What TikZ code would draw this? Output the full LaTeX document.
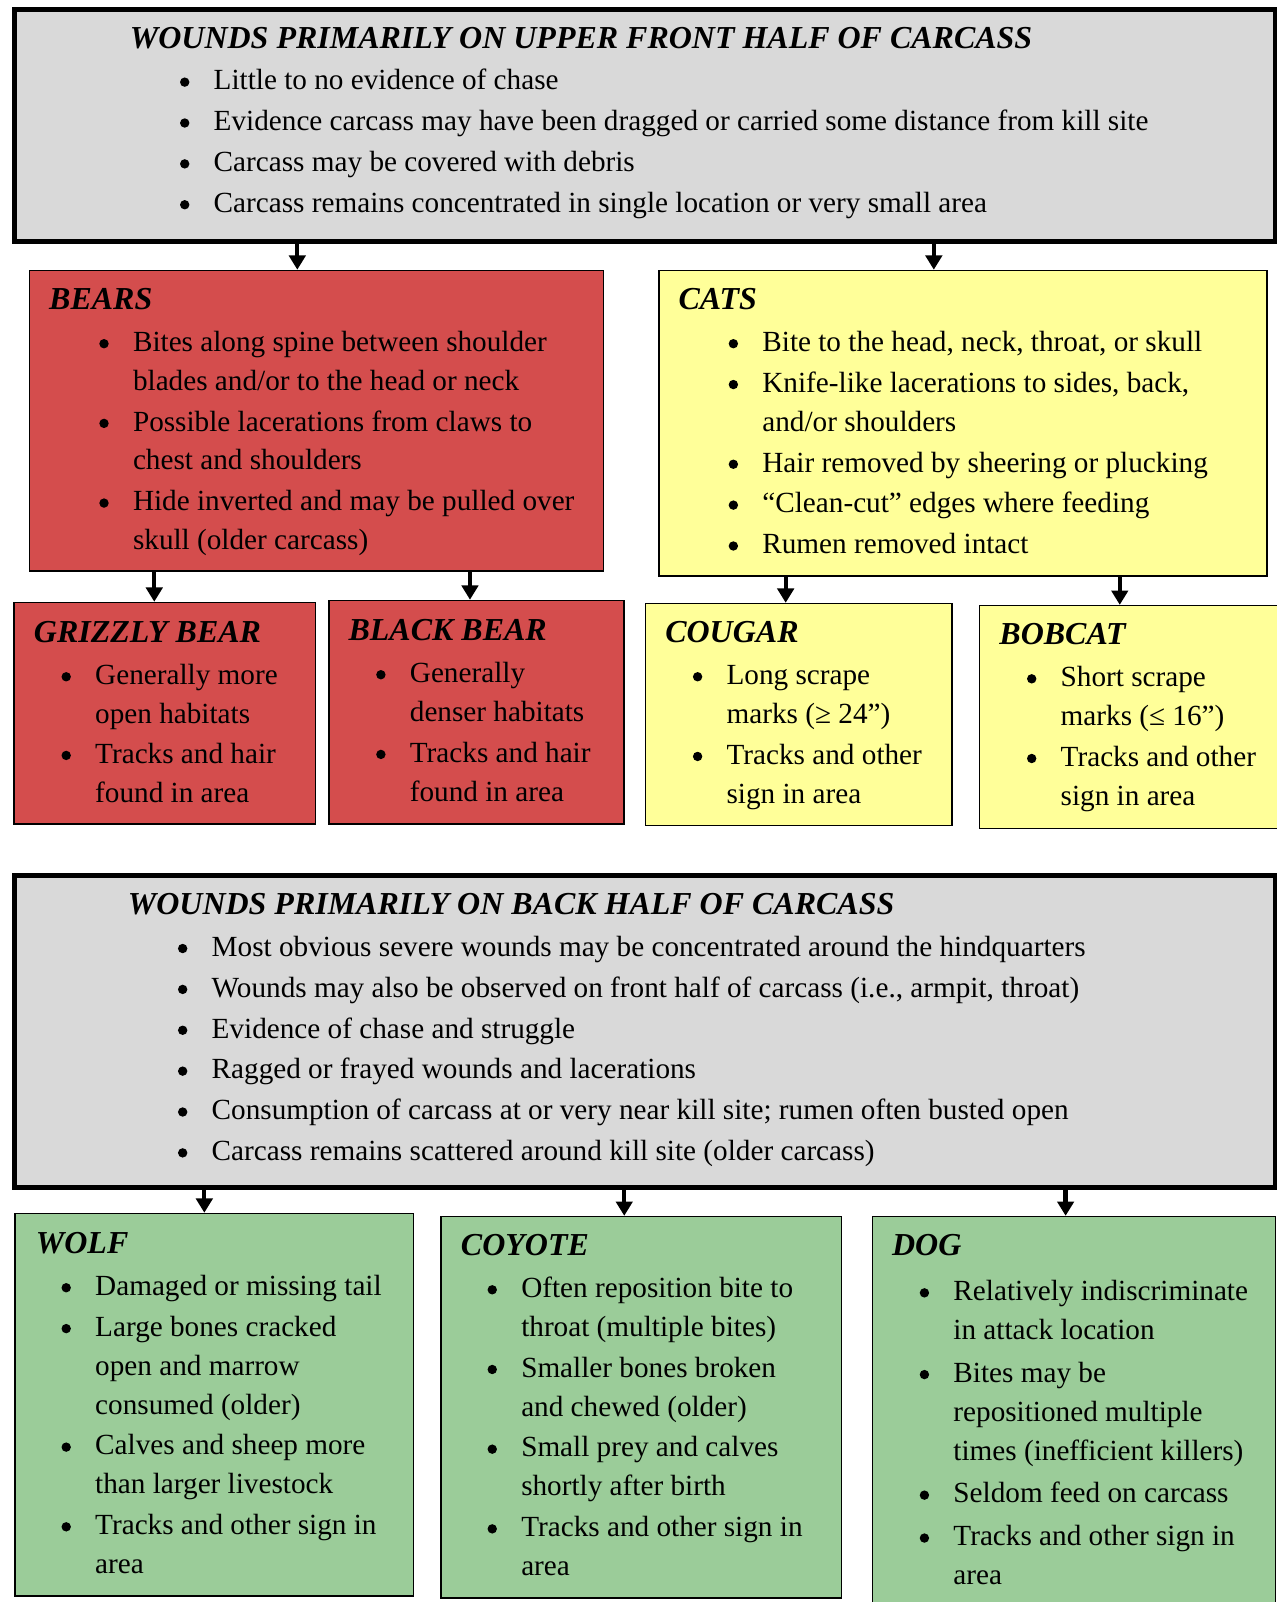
\documentclass[tikz,border=0pt]{standalone}
\usepackage{fontspec}
\setmainfont{Liberation Serif}
\usetikzlibrary{arrows.meta}
\definecolor{boxgray}{RGB}{217,217,217}
\definecolor{boxred}{RGB}{212,77,77}
\definecolor{boxyellow}{RGB}{255,255,153}
\definecolor{boxgreen}{RGB}{155,204,153}
\newlength\bo
\newlength\bw
\newcommand\bdot{\tikz[baseline=0pt]\fill[black] (4.6pt,7.6pt) circle[radius=4.6pt];}
\newcommand\bl[1]{\makebox[\bw][l]{\hspace{\bo}\bdot}#1}
\newcommand\cl[1]{\hspace{\bw}#1}
\newcommand\ttl[1]{{\fontsize{31.3}{38}\selectfont\textbf{\textit{#1}}}}
\newcommand\bigind{\setlength\bo{49pt}\setlength\bw{82pt}}
\newcommand\smind{\setlength\bo{27pt}\setlength\bw{60pt}}
\tikzset{
  thinbox/.style={draw=black, line width=1.6pt, rectangle, anchor=north west, inner sep=0pt},
  thickbox/.style={draw=black, line width=5pt, fill=boxgray, rectangle, anchor=north west, inner sep=0pt},
  txt/.style={anchor=base west, inner sep=0pt, font=\fontsize{28.6}{38}\selectfont},
  arr/.style={line width=4.2pt, -{Triangle[width=16pt,length=14pt]}}
}
\begin{document}
\begin{tikzpicture}[x=1pt,y=-1pt]
\useasboundingbox (0,0) rectangle (1249,1568);
% ---------- boxes ----------
\node[thickbox, minimum width=1234.5pt, minimum height=227pt] (top) at (11.5,6.5) {};
\node[thinbox, fill=boxred, minimum width=562pt, minimum height=294pt] (bears) at (28,264) {};
\node[thinbox, fill=boxyellow, minimum width=595pt, minimum height=299pt] (cats) at (644,264) {};
\node[thinbox, fill=boxred, minimum width=295pt, minimum height=217pt] (grizzly) at (13,589) {};
\node[thinbox, fill=boxred, minimum width=289pt, minimum height=219pt] (black) at (321,587) {};
\node[thinbox, fill=boxyellow, minimum width=300pt, minimum height=217pt] (cougar) at (631,590) {};
\node[thinbox, fill=boxyellow, minimum width=310pt, minimum height=218pt] (bobcat) at (958,592) {};
\node[thickbox, minimum width=1234.5pt, minimum height=305.5pt] (bottom) at (11.5,854) {};
\node[thinbox, fill=boxgreen, minimum width=390pt, minimum height=374pt] (wolf) at (14,1187) {};
\node[thinbox, fill=boxgreen, minimum width=392pt, minimum height=373pt] (coyote) at (431,1190) {};
\node[thinbox, fill=boxgreen, minimum width=394.5pt, minimum height=400pt] (dog) at (853,1190) {};
% ---------- arrow columns ----------
\coordinate (c1) at (291,0);
\coordinate (c2) at (914,0);
\coordinate (c3) at (151,0);
\coordinate (c4) at (460,0);
\coordinate (c5) at (769,0);
\coordinate (c6) at (1096,0);
\coordinate (c7) at (200,0);
\coordinate (c8) at (611,0);
\coordinate (c9) at (1043,0);
\draw[arr] (top.south -| c1) -- (bears.north -| c1);
\draw[arr] (top.south -| c2) -- (cats.north -| c2);
\draw[arr] (bears.south -| c3) -- (grizzly.north -| c3);
\draw[arr] (bears.south -| c4) -- (black.north -| c4);
\draw[arr] (cats.south -| c5) -- (cougar.north -| c5);
\draw[arr] (cats.south -| c6) -- (bobcat.north -| c6);
\draw[arr] (bottom.south -| c7) -- (wolf.north -| c7);
\draw[arr] (bottom.south -| c8) -- (coyote.north -| c8);
\draw[arr] (bottom.south -| c9) -- (dog.north -| c9);
% ---------- texts ----------
\node[txt] (topT) at (127,47) {\bigind\begin{tabular}[t]{@{}l@{}}
\ttl{WOUNDS PRIMARILY ON UPPER FRONT HALF OF CARCASS}\\[3pt]
\bl{Little to no evidence of chase}\\[2pt]
\bl{Evidence carcass may have been dragged or carried some distance from kill site}\\[2pt]
\bl{Carcass may be covered with debris}\\[2pt]
\bl{Carcass remains concentrated in single location or very small area}
\end{tabular}};
\node[txt] (bearsT) at (48,303) {\bigind\begin{tabular}[t]{@{}l@{}}
\ttl{BEARS}\\[3pt]
\bl{Bites along spine between shoulder}\\
\cl{blades and/or to the head or neck}\\[2pt]
\bl{Possible lacerations from claws to}\\
\cl{chest and shoulders}\\[2pt]
\bl{Hide inverted and may be pulled over}\\
\cl{skull (older carcass)}
\end{tabular}};
\node[txt] (catsT) at (664,303) {\bigind\begin{tabular}[t]{@{}l@{}}
\ttl{CATS}\\[3pt]
\bl{Bite to the head, neck, throat, or skull}\\[2pt]
\bl{Knife-like lacerations to sides, back,}\\
\cl{and/or shoulders}\\[2pt]
\bl{Hair removed by sheering or plucking}\\[2pt]
\bl{“Clean-cut” edges where feeding}\\[2pt]
\bl{Rumen removed intact}
\end{tabular}};
\node[txt] (grizzlyT) at (33,629) {\smind\begin{tabular}[t]{@{}l@{}}
\ttl{GRIZZLY BEAR}\\[3pt]
\bl{Generally more}\\
\cl{open habitats}\\[1pt]
\bl{Tracks and hair}\\
\cl{found in area}
\end{tabular}};
\node[txt] (blackT) at (341,627) {\smind\begin{tabular}[t]{@{}l@{}}
\ttl{BLACK BEAR}\\[3pt]
\bl{Generally}\\
\cl{denser habitats}\\[2pt]
\bl{Tracks and hair}\\
\cl{found in area}
\end{tabular}};
\node[txt] (cougarT) at (651,629) {\smind\begin{tabular}[t]{@{}l@{}}
\ttl{COUGAR}\\[3pt]
\bl{Long scrape}\\
\cl{marks (≥ 24”)}\\[2pt]
\bl{Tracks and other}\\
\cl{sign in area}
\end{tabular}};
\node[txt] (bobcatT) at (978,631) {\smind\begin{tabular}[t]{@{}l@{}}
\ttl{BOBCAT}\\[3pt]
\bl{Short scrape}\\
\cl{marks (≤ 16”)}\\[2pt]
\bl{Tracks and other}\\
\cl{sign in area}
\end{tabular}};
\node[txt] (bottomT) at (125,895) {\bigind\begin{tabular}[t]{@{}l@{}}
\ttl{WOUNDS PRIMARILY ON BACK HALF OF CARCASS}\\[3pt]
\bl{Most obvious severe wounds may be concentrated around the hindquarters}\\[2pt]
\bl{Wounds may also be observed on front half of carcass (i.e., armpit, throat)}\\[2pt]
\bl{Evidence of chase and struggle}\\[2pt]
\bl{Ragged or frayed wounds and lacerations}\\[2pt]
\bl{Consumption of carcass at or very near kill site; rumen often busted open}\\[2pt]
\bl{Carcass remains scattered around kill site (older carcass)}
\end{tabular}};
\node[txt] (wolfT) at (35,1227) {\setlength\bo{25pt}\setlength\bw{58pt}\begin{tabular}[t]{@{}l@{}}
\ttl{WOLF}\\[3pt]
\bl{Damaged or missing tail}\\[2pt]
\bl{Large bones cracked}\\
\cl{open and marrow}\\
\cl{consumed (older)}\\[2pt]
\bl{Calves and sheep more}\\
\cl{than larger livestock}\\[2pt]
\bl{Tracks and other sign in}\\
\cl{area}
\end{tabular}};
\node[txt] (coyoteT) at (451,1229) {\setlength\bo{26pt}\setlength\bw{59pt}\begin{tabular}[t]{@{}l@{}}
\ttl{COYOTE}\\[3pt]
\bl{Often reposition bite to}\\
\cl{throat (multiple bites)}\\[2pt]
\bl{Smaller bones broken}\\
\cl{and chewed (older)}\\[2pt]
\bl{Small prey and calves}\\
\cl{shortly after birth}\\[2pt]
\bl{Tracks and other sign in}\\
\cl{area}
\end{tabular}};
\node[txt] (dogT) at (873,1229) {\smind\begin{tabular}[t]{@{}l@{}}
\ttl{DOG}\\[6pt]
\bl{Relatively indiscriminate}\\
\cl{in attack location}\\[4pt]
\bl{Bites may be}\\
\cl{repositioned multiple}\\
\cl{times (inefficient killers)}\\[4pt]
\bl{Seldom feed on carcass}\\[4pt]
\bl{Tracks and other sign in}\\
\cl{area}
\end{tabular}};
\end{tikzpicture}
\end{document}
